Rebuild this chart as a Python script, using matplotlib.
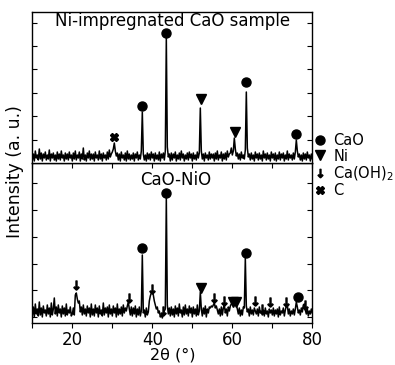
import numpy as np
import matplotlib
matplotlib.use('Agg')
import matplotlib.pyplot as plt
from matplotlib.lines import Line2D
from matplotlib.ticker import MultipleLocator, FixedLocator, NullFormatter

plt.rcParams["font.family"] = ["DejaVu Sans"]
plt.rcParams["mathtext.fontset"] = "dejavusans"

# 2theta scan, 0.25 deg step (10 -> 80)
two_theta = np.arange(10, 80.001, 0.25)

# Ni-impregnated CaO sample (intensity, a.u.)
top_counts = (
    [3, 9, 2, 12, 5, 8, 3, 14, 4, 10, 2, 9, 5, 11, 3, 8, 4, 13, 2, 9] +
    [5, 10, 3, 8, 2, 11, 4, 9, 3, 12, 5, 8, 2, 10, 4, 9, 3, 11, 5, 8] +
    [2, 10, 4, 12, 3, 8, 5, 11, 2, 9, 4, 15, 3, 8, 2, 10, 5, 12, 3, 9] +
    [4, 9, 2, 11, 5, 8, 3, 12, 4, 9, 2, 10, 5, 8, 3, 11, 4, 13, 6, 9] +
    [11, 14, 20, 12, 7, 10, 3, 9, 2, 11, 5, 8, 3, 10, 2, 12, 4, 9, 3, 8] +
    [4, 10, 2, 9, 5, 11, 3, 8, 4, 12, 51, 9, 3, 8, 2, 10, 4, 9, 3, 11] +
    [5, 9, 2, 10, 4, 8, 3, 11, 2, 9, 5, 10, 3, 12, 125, 16, 6, 9, 2, 10] +
    [3, 9, 5, 11, 2, 8, 4, 10, 3, 12, 5, 9, 2, 8, 4, 10, 3, 11, 5, 9] +
    [2, 10, 4, 8, 3, 11, 5, 10, 55, 12, 4, 9, 2, 10, 5, 8, 3, 11, 4, 9] +
    [5, 9, 2, 10, 4, 12, 3, 8, 5, 11, 2, 9, 4, 10, 3, 12, 6, 9, 10, 15] +
    [8, 12, 25, 14, 7, 10, 4, 9, 3, 11, 5, 8, 4, 13, 71, 15, 6, 9, 3, 10] +
    [4, 8, 2, 11, 5, 9, 3, 10, 4, 8, 2, 12, 5, 9, 3, 10, 4, 8, 2, 11] +
    [5, 9, 3, 10, 2, 8, 4, 11, 3, 9, 5, 10, 2, 8, 4, 12, 3, 9, 5, 8] +
    [3, 10, 4, 11, 23, 12, 6, 9, 3, 8, 2, 10, 4, 9, 3, 11, 5, 8, 2, 9] +
    [4]
)

# CaO-NiO (intensity, a.u.)
bottom_counts = (
    [8, 16, 6, 19, 9, 14, 7, 21, 8, 15, 6, 17, 10, 13, 7, 18, 9, 15, 6, 20] +
    [8, 14, 25, 9, 16, 7, 18, 10, 14, 6, 17, 9, 15, 7, 19, 8, 13, 10, 16, 7] +
    [9, 15, 8, 28, 30, 24, 20, 22, 11, 16, 8, 18, 9, 14, 7, 17, 10, 15, 6, 19] +
    [8, 14, 7, 18, 10, 15, 6, 17, 9, 13, 7, 20, 8, 15, 10, 16, 6, 18, 9, 14] +
    [7, 17, 10, 15, 6, 19, 8, 14, 9, 16, 7, 18, 10, 15, 12, 17, 21, 14, 8, 16] +
    [7, 15, 9, 17, 6, 14, 8, 16, 7, 12, 68, 10, 13, 6, 15, 8, 11, 22, 27, 30] +
    [31, 28, 22, 18, 14, 16, 10, 12, 6, 8, 5, 9, 12, 14, 125, 18, 9, 15, 7, 16] +
    [8, 14, 6, 17, 9, 15, 7, 19, 10, 13, 6, 16, 8, 18, 9, 14, 7, 17, 10, 15] +
    [6, 16, 9, 14, 7, 18, 8, 12, 31, 14, 7, 15, 9, 17, 6, 14, 10, 16, 15, 17] +
    [16, 18, 20, 15, 17, 13, 9, 14, 7, 16, 8, 15, 18, 10, 14, 7, 16, 12, 17, 19] +
    [19, 22, 20, 22, 18, 14, 9, 15, 7, 13, 8, 16, 15, 65, 17, 11, 14, 7, 16, 9] +
    [13, 8, 15, 12, 9, 14, 7, 16, 10, 11, 8, 13, 7, 15, 9, 12, 6, 14, 10, 13] +
    [8, 15, 7, 13, 9, 14, 6, 16, 8, 12, 10, 15, 7, 13, 17, 18, 9, 14, 7, 12] +
    [9, 14, 8, 14, 21, 16, 10, 13, 8, 15, 11, 18, 19, 13, 9, 14, 7, 12, 9, 14] +
    [10]
)

# phase markers (2theta, intensity)
top_cao_x = [37.5, 43.5, 63.5, 76.0]
top_cao_y = [57, 130, 81, 29]
top_ni_x = [52.1, 60.6]
top_ni_y = [64, 31]
top_c_x = [30.4]
top_c_y = [26]

bot_cao_x = [37.5, 43.5, 63.3, 76.3]
bot_cao_y = [75, 130, 70, 26]
bot_ni_x = [52.1, 60.2, 60.8]
bot_ni_y = [35, 21, 21]
bot_caoh2_x = [21.0, 34.1, 40.0, 42.7, 55.5, 58.0, 65.6, 67.5, 69.4, 73.4, 78.2]
bot_caoh2_y = [38, 25, 34, 12, 25, 22, 22, 14, 21, 21, 18]

legend_labels = ["CaO", "Ni", "Ca(OH)$_2$", "C"]

arrow = r'$\downarrow$'

fig = plt.figure(figsize=(3.95, 3.65), dpi=100)
ax2 = fig.add_axes([0.0818, 0.1151, 0.7089, 0.4384])
ax1 = fig.add_axes([0.0818, 0.5534, 0.7089, 0.4137])
ax1.set_zorder(3)

# top panel
ax1.plot(two_theta, top_counts, color="k", lw=1.1)
ax1.plot(top_cao_x, top_cao_y, "o", color="k", ms=6.5, ls="none")
ax1.plot(top_ni_x, top_ni_y, "v", color="k", ms=6.5, ls="none")
ax1.plot(top_c_x, top_c_y, "X", color="k", ms=5.5, ls="none")
ax1.set_ylim(0, 151)
ax1.text(0.5, 0.94, "Ni-impregnated CaO sample", transform=ax1.transAxes,
         ha="center", va="center", fontsize=12)

# bottom panel
ax2.plot(two_theta, bottom_counts, color="k", lw=1.1)
ax2.plot(bot_cao_x, bot_cao_y, "o", color="k", ms=6.5, ls="none")
ax2.plot(bot_ni_x, bot_ni_y, "v", color="k", ms=6.5, ls="none")
ax2.plot(bot_caoh2_x, bot_caoh2_y, marker=arrow, color="k", ms=6.5, ls="none")
ax2.set_ylim(0, 160)
ax2.text(0.513, 0.894, "CaO-NiO", transform=ax2.transAxes,
         ha="center", va="center", fontsize=12)

for ax in (ax1, ax2):
    ax.set_xlim(10, 80)
    ax.xaxis.set_major_locator(MultipleLocator(20))
    ax.xaxis.set_minor_locator(MultipleLocator(10))
    ax.tick_params(axis="x", which="both", direction="out", length=3.5, width=0.8)
    ax.tick_params(axis="y", which="both", direction="in", length=3.5, width=0.8,
                   left=True, right=True, labelleft=False)
    for s in ax.spines.values():
        s.set_linewidth(1.0)

ax1.yaxis.set_major_locator(FixedLocator(np.arange(23.4, 151, 23.4)))
ax2.yaxis.set_major_locator(FixedLocator(np.arange(6, 160, 26.7)))
ax1.xaxis.set_major_formatter(NullFormatter())
ax2.tick_params(axis="x", labelsize=12, pad=2.5)
ax2.set_xlabel("2θ (°)", fontsize=11.5, labelpad=-1)

fig.text(0.038, 0.53, "Intensity (a. u.)", rotation=90, ha="center", va="center",
         fontsize=12.5)

handles = [
    Line2D([], [], marker="o", color="k", ls="none", ms=6.5),
    Line2D([], [], marker="v", color="k", ls="none", ms=6.5),
    Line2D([], [], marker=arrow, color="k", ls="none", ms=6),
    Line2D([], [], marker="X", color="k", ls="none", ms=6),
]
fig.legend(handles, legend_labels, loc="upper left", bbox_to_anchor=(0.792, 0.636),
           frameon=False, fontsize=10.5, handlelength=1.0, handletextpad=0.4,
           labelspacing=0.05, borderpad=0, borderaxespad=0)

fig.savefig("out.png", dpi=100)
